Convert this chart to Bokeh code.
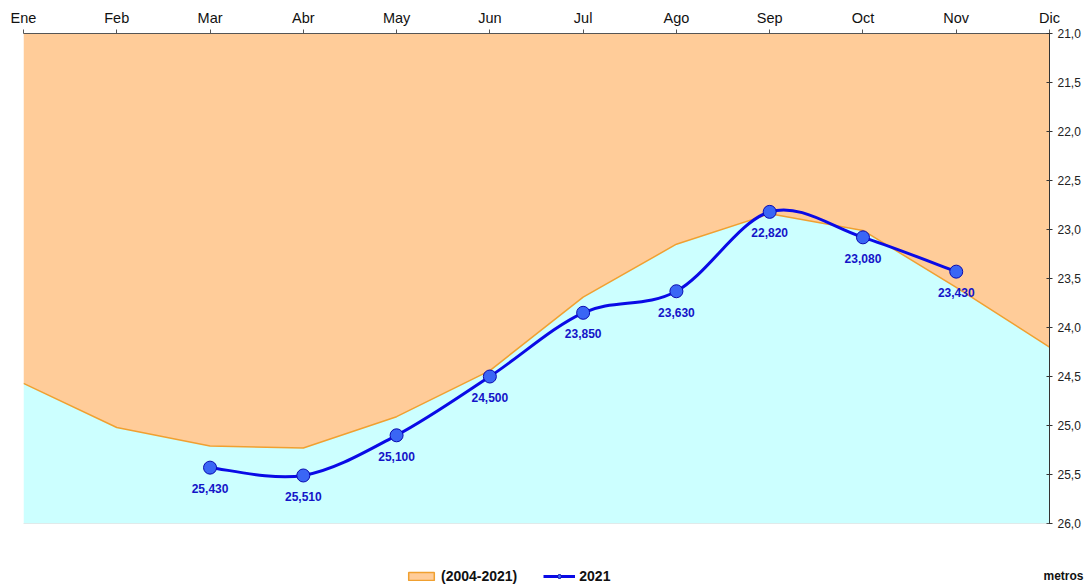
from bokeh.plotting import figure
from bokeh.layouts import column
from bokeh.models import (Range1d, FixedTicker, CustomJSTickFormatter, ColumnDataSource,
                          Legend, LegendItem, Label, Span)
from bokeh.embed import file_html
from bokeh.resources import INLINE

months = ["Ene", "Feb", "Mar", "Abr", "May", "Jun", "Jul", "Ago", "Sep", "Oct", "Nov", "Dic"]
avg_2004_2021 = [24.57, 25.02, 25.21, 25.23, 24.91, 24.44, 23.69, 23.15, 22.84, 23.01, 23.59, 24.20]
months_2021 = ["Mar", "Abr", "May", "Jun", "Jul", "Ago", "Sep", "Oct", "Nov"]
values_2021 = [25.43, 25.51, 25.10, 24.50, 23.85, 23.63, 22.82, 23.08, 23.43]
y_ticks = [21.0, 21.5, 22.0, 22.5, 23.0, 23.5, 24.0, 24.5, 25.0, 25.5, 26.0]
y_top, y_bottom = 21.0, 26.0

FONT = "Liberation Sans"
W = 1088
NAN = float("nan")

xs_all = list(range(len(months)))
xs21 = [months.index(m) for m in months_2021]

p = figure(width=W, height=540, output_backend="svg", toolbar_location=None,
           x_range=Range1d(0, 11), y_range=Range1d(y_bottom, y_top),
           x_axis_location="above", y_axis_location="right",
           min_border_left=23, min_border_right=39, min_border_top=33, min_border_bottom=17)
p.outline_line_color = None
p.xgrid.visible = False
p.ygrid.visible = False
p.frame_align = False

# areas
p.varea(x=xs_all, y1=avg_2004_2021, y2=[y_top] * len(xs_all), fill_color="#FFCC99")
p.varea(x=xs_all, y1=avg_2004_2021, y2=[y_bottom] * len(xs_all), fill_color="#CCFFFF")
p.line(x=xs_all, y=avg_2004_2021, line_color="#F0A030", line_width=1.5)

p.add_layout(Span(location=y_bottom, dimension="width", line_color="#AAAAAA",
                  line_dash="1 1", line_width=1))

# smoothed 2021 line (Catmull-Rom -> cubic Bezier, computed from data)
n = len(xs21)
x0, y0, x1, y1, cx0, cy0, cx1, cy1 = [], [], [], [], [], [], [], []
for i in range(n - 1):
    pm = (xs21[max(i - 1, 0)], values_2021[max(i - 1, 0)])
    pa = (xs21[i], values_2021[i])
    pb = (xs21[i + 1], values_2021[i + 1])
    pn = (xs21[min(i + 2, n - 1)], values_2021[min(i + 2, n - 1)])
    x0.append(pa[0]); y0.append(pa[1]); x1.append(pb[0]); y1.append(pb[1])
    cx0.append(pa[0] + (pb[0] - pm[0]) / 6); cy0.append(pa[1] + (pb[1] - pm[1]) / 6)
    cx1.append(pb[0] - (pn[0] - pa[0]) / 6); cy1.append(pb[1] - (pn[1] - pa[1]) / 6)
p.bezier(x0=x0, y0=y0, x1=x1, y1=y1, cx0=cx0, cy0=cy0, cx1=cx1, cy1=cy1,
         line_color="#0A0AE6", line_width=3)

src = ColumnDataSource(dict(x=xs21, y=values_2021,
                            lbl=[f"{v:.3f}".replace(".", ",") for v in values_2021]))
p.scatter("x", "y", source=src, size=13, fill_color="#3A66F5",
          line_color="#0A0AB0", line_width=1)
p.text("x", "y", text="lbl", source=src, text_align="center", text_baseline="middle",
       y_offset=21, text_font={"value": FONT}, text_font_style="bold",
       text_font_size="12px", text_color="#1414C8")

# axes
xa = p.xaxis[0]
xa.ticker = FixedTicker(ticks=xs_all)
xa.major_label_overrides = {i: m for i, m in enumerate(months)}
xa.minor_tick_line_color = None
xa.major_tick_out = 4
xa.major_tick_in = 0
xa.axis_line_color = "#555555"
xa.major_tick_line_color = "#555555"
xa.major_label_text_font = FONT
xa.major_label_text_font_size = "14.5px"
xa.major_label_text_color = "#111111"
xa.major_label_standoff = 4

ya = p.yaxis[0]
ya.ticker = FixedTicker(ticks=y_ticks)
ya.formatter = CustomJSTickFormatter(code="return tick.toFixed(1).replace('.', ',');")
ya.minor_tick_line_color = None
ya.major_tick_out = 3
ya.major_tick_in = 3
ya.axis_line_color = "#333333"
ya.major_tick_line_color = "#333333"
ya.major_label_text_font = FONT
ya.major_label_text_font_size = "12px"
ya.major_label_text_color = "#222222"
ya.major_label_standoff = 5

# legend strip below the chart
lf = figure(width=W, height=46, output_backend="svg", toolbar_location=None,
            x_range=Range1d(0, W), y_range=Range1d(0, 46),
            min_border=0, x_axis_type=None, y_axis_type=None)
lf.outline_line_color = None
lf.xgrid.visible = False
lf.ygrid.visible = False
lf.frame_align = False
dummy_area = lf.quad(left=[NAN], right=[NAN], top=[NAN], bottom=[NAN], fill_color="#FFCC99",
                     line_color="#F0A030", line_width=1.5)
dummy_line = lf.line(x=[NAN], y=[NAN], line_color="#0A0AE6", line_width=3)
dummy_pt = lf.scatter(x=[NAN], y=[NAN], size=8, fill_color="#3A66F5", line_color="#0A0AB0")
legend = Legend(items=[LegendItem(label="(2004-2021)", renderers=[dummy_area]),
                       LegendItem(label="2021", renderers=[dummy_line, dummy_pt])],
                orientation="horizontal", location=(405, 2),
                glyph_width=32, glyph_height=10, label_height=12, label_standoff=4,
                spacing=26, padding=0, margin=0,
                background_fill_alpha=0, border_line_color=None,
                label_text_font=FONT, label_text_font_style="bold",
                label_text_font_size="14px", label_text_color="#111111")
lf.add_layout(legend)
lf.add_layout(Label(x=1063, y=11, text="metros", text_align="center",
                    text_baseline="middle", text_font=FONT, text_font_style="bold",
                    text_font_size="12px", text_color="#111111"))

open("out.html", "w").write(file_html(column(p, lf, spacing=0), INLINE))
